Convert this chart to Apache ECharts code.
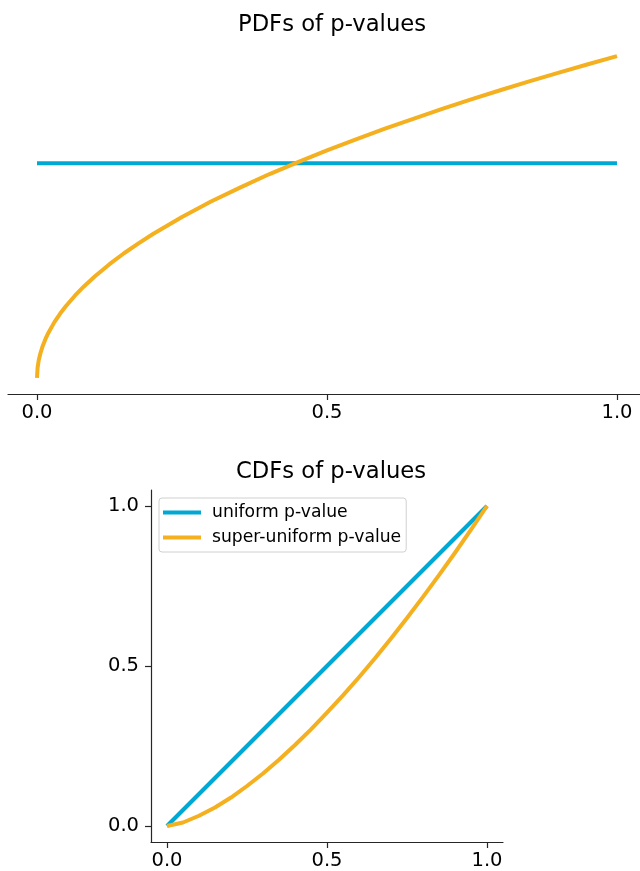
<!DOCTYPE html>
<html><head><meta charset="utf-8">
<script src="https://cdn.jsdelivr.net/npm/echarts@6/dist/echarts.min.js"></script>
<style>html,body{margin:0;padding:0;background:#fff}#c{width:640px;height:871px}</style>
</head><body><div id="c"></div>
<script>
// PDF panel data
const pdfX = [0, 0.001, 0.003, 0.006, 0.01, 0.015, 0.02, 0.03, 0.04, 0.05, 0.065, 0.08, 0.1, 0.125, 0.15, 0.175, 0.2, 0.25, 0.3, 0.35, 0.4, 0.45, 0.5, 0.55, 0.6, 0.65, 0.7, 0.75, 0.8, 0.85, 0.9, 0.95, 1.0];
const pdfSuper = [0, 0.047, 0.082, 0.116, 0.15, 0.184, 0.212, 0.26, 0.30, 0.335, 0.382, 0.424, 0.474, 0.53, 0.581, 0.627, 0.671, 0.75, 0.822, 0.887, 0.949, 1.006, 1.061, 1.112, 1.162, 1.209, 1.255, 1.299, 1.342, 1.383, 1.423, 1.462, 1.5];
const pdfUniformX = [0, 1];
const pdfUniform = [1, 1];
// CDF panel data
const cdfX = [0, 0.05, 0.1, 0.15, 0.2, 0.25, 0.3, 0.35, 0.4, 0.45, 0.5, 0.55, 0.6, 0.65, 0.7, 0.75, 0.8, 0.85, 0.9, 0.95, 1.0];
const cdfSuper = [0, 0.011, 0.032, 0.058, 0.089, 0.125, 0.164, 0.207, 0.253, 0.302, 0.354, 0.408, 0.465, 0.524, 0.586, 0.65, 0.716, 0.784, 0.854, 0.926, 1.0];
const cdfUniformX = [0, 1];
const cdfUniform = [0, 1];
const ticks = [0, 0.5, 1.0];
const tickLabels = ['0.0', '0.5', '1.0'];
const seriesNames = ['uniform p-value', 'super-uniform p-value'];
const titles = ['PDFs of p-values', 'CDFs of p-values'];

const BLUE = '#00a8d4', ORANGE = '#f4b01f';
const FONT = 'DejaVu Sans';
const zip = (xs, ys) => xs.map((x, i) => [x, ys[i]]);
const fmt = v => tickLabels[ticks.findIndex(t => Math.abs(t - v) < 1e-9)] || '';

function axis(extra) {
  return Object.assign({
    type: 'value',
    axisLine: { show: true, onZero: false, lineStyle: { color: '#262626', width: 1.2 } },
    axisTick: { show: true, length: 6, lineStyle: { color: '#262626', width: 1.2 }, customValues: ticks },
    axisLabel: { show: true, color: '#000', fontFamily: FONT, fontSize: 19.5, formatter: fmt, customValues: ticks, margin: 9 },
    splitLine: { show: false }
  }, extra);
}

const chart = echarts.init(document.getElementById('c'), null, { renderer: 'canvas' });
chart.setOption({
  animation: false,
  backgroundColor: '#fff',
  title: [
    { text: titles[0], left: 327, top: 9, textAlign: 'center', textStyle: { fontFamily: FONT, fontSize: 22.7, fontWeight: 'normal', color: '#000' } },
    { text: titles[1], left: 326, top: 456, textAlign: 'center', textStyle: { fontFamily: FONT, fontSize: 22.7, fontWeight: 'normal', color: '#000' } }
  ],
  grid: [
    { left: 8, top: 40, width: 632, height: 354 },
    { left: 151, top: 490, width: 352, height: 352 }
  ],
  xAxis: [
    axis({ gridIndex: 0, min: -0.05, max: 1.0397 }),
    axis({ gridIndex: 1, min: -0.05, max: 1.05 })
  ],
  yAxis: [
    { type: 'value', gridIndex: 0, min: -0.075, max: 1.575, axisLine: { show: false }, axisTick: { show: false }, axisLabel: { show: false }, splitLine: { show: false } },
    axis({ gridIndex: 1, min: -0.05, max: 1.05, axisLabel: { show: true, color: '#000', fontFamily: FONT, fontSize: 19.5, formatter: fmt, customValues: ticks, margin: 12 } })
  ],
  legend: {
    show: true, left: 159, top: 498, orient: 'vertical',
    data: seriesNames,
    icon: 'rect', itemWidth: 38, itemHeight: 4, itemGap: 8,
    padding: [6, 5, 6, 4],
    borderColor: '#d0d0d0', borderWidth: 1, borderRadius: 3, backgroundColor: 'rgba(255,255,255,0.8)',
    textStyle: { fontFamily: FONT, fontSize: 17.2, color: '#000', padding: [0, 0, 0, 6] }
  },
  series: [
    { name: 'pdf-uniform', type: 'line', xAxisIndex: 0, yAxisIndex: 0, data: zip(pdfUniformX, pdfUniform), showSymbol: false, lineStyle: { color: BLUE, width: 4 }, itemStyle: { color: BLUE }, z: 2 },
    { name: 'pdf-super', type: 'line', xAxisIndex: 0, yAxisIndex: 0, data: zip(pdfX, pdfSuper), showSymbol: false, lineStyle: { color: ORANGE, width: 4, join: 'round' }, itemStyle: { color: ORANGE }, z: 3 },
    { name: seriesNames[0], type: 'line', xAxisIndex: 1, yAxisIndex: 1, data: zip(cdfUniformX, cdfUniform), showSymbol: false, lineStyle: { color: BLUE, width: 4 }, itemStyle: { color: BLUE }, z: 2 },
    { name: seriesNames[1], type: 'line', xAxisIndex: 1, yAxisIndex: 1, data: zip(cdfX, cdfSuper), showSymbol: false, lineStyle: { color: ORANGE, width: 4, join: 'round' }, itemStyle: { color: ORANGE }, z: 3 }
  ]
});
</script></body></html>
